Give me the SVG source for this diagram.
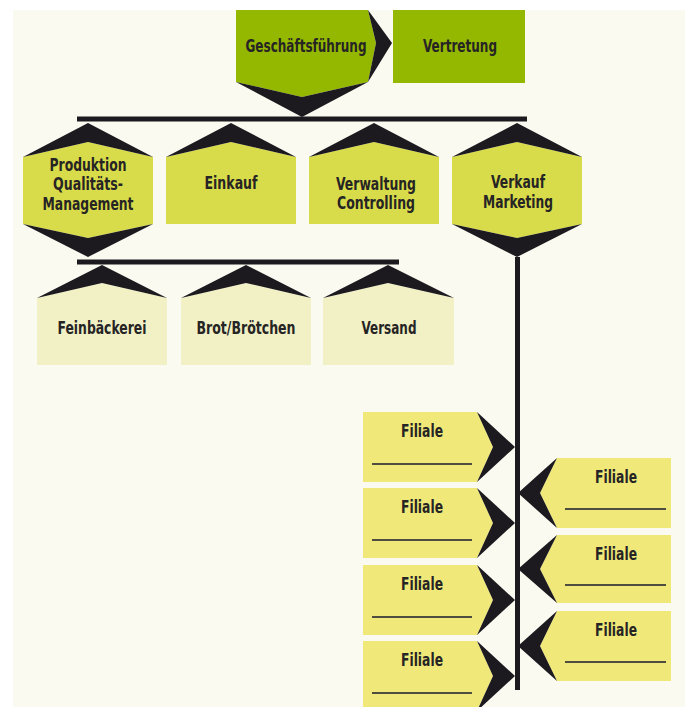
<svg xmlns="http://www.w3.org/2000/svg" width="687" height="707" viewBox="0 0 687 707">
<style>
.t{font-family:"DejaVu Sans Condensed","DejaVu Sans",sans-serif;font-weight:bold;font-size:17px;fill:#262424;text-anchor:middle}
.k{fill:#1c1a1f}
.g{fill:#94b800}
.y{fill:#d9dc4a}
.p{fill:#f2f1c6}
.f{fill:#f0e97a}
.u{stroke:#4f4d40;stroke-width:1.8}
</style>
<rect x="0" y="0" width="687" height="707" fill="#ffffff"/>
<rect x="13" y="10" width="672" height="697" fill="#fafaf0"/>
<g id="connectors">
<rect class="k" x="77" y="116.5" width="450" height="5"/>
<rect class="k" x="77" y="259.5" width="322" height="5"/>
<rect class="k" x="515" y="257" width="5" height="433"/>
</g>
<g id="geschaeftsfuehrung">
<polygon class="g" points="236,10 368,10 376,43 368,82 302,97 236,82"/>
<polygon class="k" points="368,10 392,43 368,82 376,43"/>
<polygon class="k" points="236,82 302,117 368,82 302,97"/>
<text class="t" x="306" y="52" textLength="121" lengthAdjust="spacingAndGlyphs">Geschäftsführung</text>
</g>
<g id="vertretung">
<rect class="g" x="393" y="10" width="132" height="73"/>
<text class="t" x="460" y="52" textLength="74" lengthAdjust="spacingAndGlyphs">Vertretung</text>
</g>
<g id="produktion">
<polygon class="y" points="23,157 88,142 153,157 153,224 88,238 23,224"/>
<polygon class="k" points="23,157 88,123 153,157 88,142"/>
<polygon class="k" points="23,224 88,257 153,224 88,238"/>
<text class="t" x="88" y="171" textLength="77" lengthAdjust="spacingAndGlyphs">Produktion</text>
<text class="t" x="88" y="190" textLength="70" lengthAdjust="spacingAndGlyphs">Qualitäts-</text>
<text class="t" x="88" y="210" textLength="91" lengthAdjust="spacingAndGlyphs">Management</text>
</g>
<g id="einkauf">
<polygon class="y" points="166,157 231,142 296,157 296,224 166,224"/>
<polygon class="k" points="166,157 231,123 296,157 231,142"/>
<text class="t" x="231" y="189" textLength="53" lengthAdjust="spacingAndGlyphs">Einkauf</text>
</g>
<g id="verwaltung">
<polygon class="y" points="309,157 374,142 439,157 439,224 309,224"/>
<polygon class="k" points="309,157 374,123 439,157 374,142"/>
<text class="t" x="376" y="190" textLength="80" lengthAdjust="spacingAndGlyphs">Verwaltung</text>
<text class="t" x="376" y="209" textLength="78" lengthAdjust="spacingAndGlyphs">Controlling</text>
</g>
<g id="verkauf">
<polygon class="y" points="452,157 517,142 582,157 582,224 517,238 452,224"/>
<polygon class="k" points="452,157 517,123 582,157 517,142"/>
<polygon class="k" points="452,224 517,257 582,224 517,238"/>
<text class="t" x="518" y="188" textLength="54" lengthAdjust="spacingAndGlyphs">Verkauf</text>
<text class="t" x="518" y="208" textLength="70" lengthAdjust="spacingAndGlyphs">Marketing</text>
</g>
<g id="feinbaeckerei">
<polygon class="p" points="37,298 102,283 167,298 167,365 37,365"/>
<polygon class="k" points="37,298 102,265 167,298 102,283"/>
<text class="t" x="102" y="334" textLength="89" lengthAdjust="spacingAndGlyphs">Feinbäckerei</text>
</g>
<g id="brot">
<polygon class="p" points="181,298 246,283 311,298 311,365 181,365"/>
<polygon class="k" points="181,298 246,265 311,298 246,283"/>
<text class="t" x="246" y="334" textLength="99" lengthAdjust="spacingAndGlyphs">Brot/Brötchen</text>
</g>
<g id="versand">
<polygon class="p" points="323,298 388,283 454,298 454,365 323,365"/>
<polygon class="k" points="323,298 388,265 454,298 388,283"/>
<text class="t" x="389" y="334" textLength="55" lengthAdjust="spacingAndGlyphs">Versand</text>
</g>
<g id="filiale-l1">
<polygon class="f" points="363,412 477,412 493,447 477,482 363,482"/>
<polygon class="k" points="477,412 515,447 477,482 493,447"/>
<text class="t" x="422" y="437" textLength="42" lengthAdjust="spacingAndGlyphs">Filiale</text>
<line class="u" x1="372" y1="464" x2="472" y2="464"/>
</g>
<g id="filiale-l2">
<polygon class="f" points="363,488 477,488 493,523 477,558 363,558"/>
<polygon class="k" points="477,488 515,523 477,558 493,523"/>
<text class="t" x="422" y="513" textLength="42" lengthAdjust="spacingAndGlyphs">Filiale</text>
<line class="u" x1="372" y1="540" x2="472" y2="540"/>
</g>
<g id="filiale-l3">
<polygon class="f" points="363,565 477,565 493,600 477,635 363,635"/>
<polygon class="k" points="477,565 515,600 477,635 493,600"/>
<text class="t" x="422" y="590" textLength="42" lengthAdjust="spacingAndGlyphs">Filiale</text>
<line class="u" x1="372" y1="617" x2="472" y2="617"/>
</g>
<g id="filiale-l4">
<polygon class="f" points="363,641 477,641 493,676 477,711 363,711"/>
<polygon class="k" points="477,641 515,676 477,711 493,676"/>
<text class="t" x="422" y="666" textLength="42" lengthAdjust="spacingAndGlyphs">Filiale</text>
<line class="u" x1="372" y1="693" x2="472" y2="693"/>
</g>
<g id="filiale-r1">
<polygon class="f" points="671,458 557,458 540,493 557,528 671,528"/>
<polygon class="k" points="557,458 518,493 557,528 540,493"/>
<text class="t" x="616" y="483" textLength="42" lengthAdjust="spacingAndGlyphs">Filiale</text>
<line class="u" x1="565" y1="509" x2="666" y2="509"/>
</g>
<g id="filiale-r2">
<polygon class="f" points="671,535 557,535 540,569 557,603 671,603"/>
<polygon class="k" points="557,535 518,569 557,603 540,569"/>
<text class="t" x="616" y="560" textLength="42" lengthAdjust="spacingAndGlyphs">Filiale</text>
<line class="u" x1="565" y1="585" x2="666" y2="585"/>
</g>
<g id="filiale-r3">
<polygon class="f" points="671,611 557,611 540,646 557,681 671,681"/>
<polygon class="k" points="557,611 518,646 557,681 540,646"/>
<text class="t" x="616" y="636" textLength="42" lengthAdjust="spacingAndGlyphs">Filiale</text>
<line class="u" x1="565" y1="662" x2="666" y2="662"/>
</g>
</svg>
